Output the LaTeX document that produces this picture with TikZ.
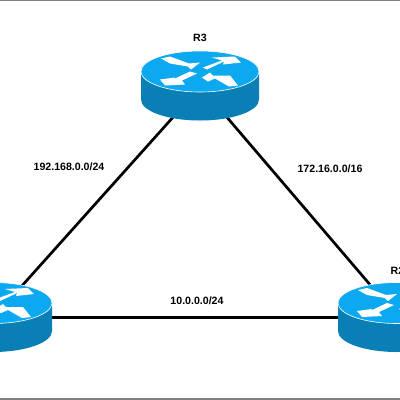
\documentclass[tikz,border=0pt]{standalone}
\usepackage{fontspec}
\setmainfont{Liberation Sans}
\definecolor{rtop}{HTML}{0DA9F0}
\definecolor{rside}{HTML}{0A7FB5}
\definecolor{rule}{HTML}{808080}
\tikzset{
  link/.style={line width=2.7pt,black},
  lab/.style={font=\fontsize{10.6}{12}\selectfont\bfseries,text=black,inner sep=0pt},
  arrowfill/.style={fill=white,draw=none},
  pics/router/.style={code={
    \path[fill=rside]
      (-59,0) -- (-59,28) .. controls (-59,39.6) and (-32.6,49) .. (0,49) .. controls (32.6,49) and (59,39.6) .. (59,28) -- (59,0) -- cycle;
    \path[fill=rtop,draw=white,line width=0.6pt] (0,0) ellipse[x radius=59,y radius=20.5];
    \fill[arrowfill] (-39,-13) -- (-30,-15) -- (-11,-8) -- (0,-9) -- (-9,-2) -- (-12,-5) -- (-30,-8) -- cycle;
    \fill[arrowfill] (3,-4) -- (22,-11) -- (12,-14) -- (35,-15) -- (41,-9) -- (23,-7) -- (24,-10) -- (7,-2) -- cycle;
    \fill[arrowfill] (-3,2) -- (-18,9) -- (-15,13) -- (-35,14) -- (-40,8) -- (-25,6) -- (-27,8) -- (-10,0) -- cycle;
    \fill[arrowfill] (2,6) -- (10,1) -- (13,4) -- (30,4) -- (38,14) -- (29,15) -- (15,7) -- (8,10) -- cycle;
  }}
}
\begin{document}
\begin{tikzpicture}[x=1pt,y=-1pt]
\useasboundingbox (0,0) rectangle (400,400);
\clip (0,0) rectangle (400,400);
\fill[white] (0,0) rectangle (400,400);
\draw[rule,line width=1.2pt] (0,0.6) -- (400,0.6);
\draw[rule,line width=1.2pt] (0,399) -- (400,399);
\coordinate (r3sw) at (175,115);
\coordinate (r3se) at (225,115);
\coordinate (r1ne) at (20,288);
\coordinate (r1e) at (45,317.5);
\coordinate (r2w) at (345,317.5);
\coordinate (r2nw) at (372,287);
\draw[link] (r3sw) -- (r1ne);
\draw[link] (r3se) -- (r2nw);
\draw[link] (r1e) -- (r2w);
\pic at (200,71.5) {router};
\pic at (-7,303) {router};
\pic at (397,303) {router};
\node[lab] (l3) at (200,38) {R3};
\node[lab,anchor=west] (l2) at (390.5,271) {R2};
\node[lab] (n1) at (69,167) {192.168.0.0/24};
\node[lab] (n2) at (330,169) {172.16.0.0/16};
\node[lab] (n3) at (197,301) {10.0.0.0/24};
\end{tikzpicture}
\end{document}
